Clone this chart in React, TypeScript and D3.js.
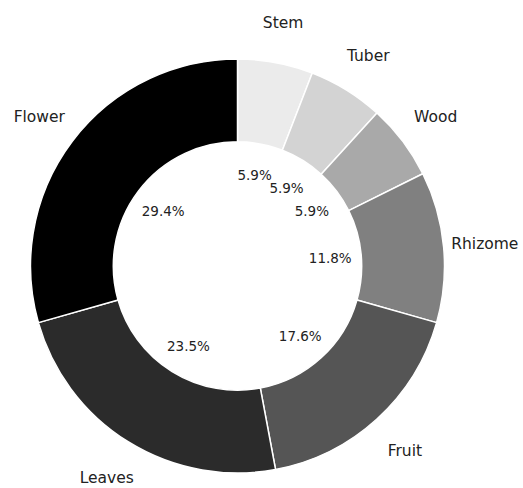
import React from "react";
import * as d3 from "d3";

const categories = ["Stem", "Tuber", "Wood", "Rhizome", "Fruit", "Leaves", "Flower"];
const counts = [1, 1, 1, 2, 3, 4, 5];
const colors = ["#ebebeb", "#d3d3d3", "#a9a9a9", "#808080", "#555555", "#2b2b2b", "#000000"];

const W = 523;
const H = 488;
const cx = 237.5;
const cy = 266;
const R = 207;
const inner = R * 0.6;
const labelDist = 1.2;
const pctDist = 0.45;

export default function App() {
  const total = d3.sum(counts);
  const pie = d3.pie<number>().sort(null).startAngle(0).endAngle(2 * Math.PI);
  const arcs = pie(counts);
  const arc = d3.arc<d3.PieArcDatum<number>>().innerRadius(inner).outerRadius(R);
  const fmt = (v: number) => ((v / total) * 100).toFixed(1) + "%";
  const pos = (a: number, r: number): [number, number] => [r * Math.sin(a), -r * Math.cos(a)];

  return (
    <svg
      width={W}
      height={H}
      style={{ position: "absolute", left: 0, top: 0, background: "#fff" }}
      fontFamily="DejaVu Sans, sans-serif"
    >
      <g transform={`translate(${cx},${cy})`}>
        {arcs.map((d, i) => (
          <path key={i} d={arc(d) || ""} fill={colors[i]} stroke="#fff" strokeWidth={1.5} strokeLinejoin="round" />
        ))}
        {arcs.map((d, i) => {
          const mid = (d.startAngle + d.endAngle) / 2;
          const [lx, ly] = pos(mid, R * labelDist);
          const [px, py] = pos(mid, R * pctDist);
          return (
            <g key={"t" + i}>
              <text x={lx} y={ly} dy={1} textAnchor="middle" dominantBaseline="central" fontSize={15.5} fill="#222">
                {categories[i]}
              </text>
              <text x={px} y={py} dy={1} textAnchor="middle" dominantBaseline="central" fontSize={13.5} fill="#222">
                {fmt(counts[i])}
              </text>
            </g>
          );
        })}
      </g>
    </svg>
  );
}
